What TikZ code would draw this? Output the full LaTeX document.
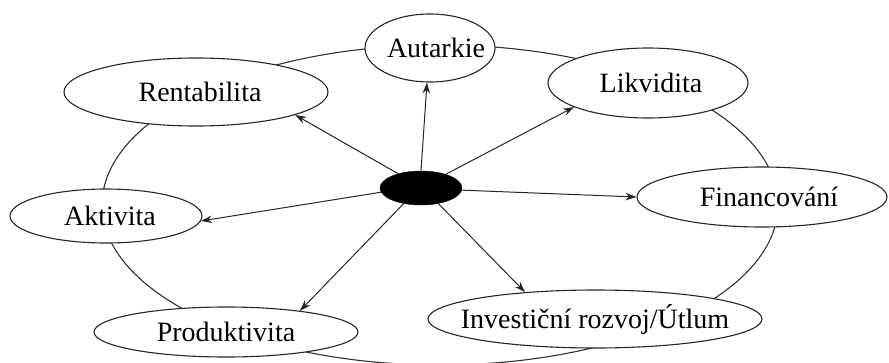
\documentclass[tikz,border=0pt]{standalone}
\usepackage{fontspec}
\setmainfont{Liberation Serif}
\usetikzlibrary{shapes.geometric,arrows.meta}
\tikzset{
  every picture/.style={x=1pt,y=-1pt},
  ebox/.style={ellipse,draw=black!85,line width=1.1pt,fill=white,inner sep=0pt,
    font=\fontsize{28}{30}\selectfont},
  hub/.style={ellipse,fill=black,draw=black,inner sep=0pt,minimum width=82pt,minimum height=34pt},
  ray/.style={draw=black!85,line width=1pt,-{Stealth[length=11pt,width=7.5pt]}},
  ring/.style={draw=black!80,line width=1.1pt}
}
\newcommand{\ctext}[2][0pt]{\makebox[0pt][c]{\hspace{#1}#2}}
\begin{document}
\begin{tikzpicture}
\useasboundingbox (0,0) rectangle (889,362);
% outer ring
\draw[ring] (440,205) ellipse [x radius=338, y radius=160];
% nodes
\node[ebox,minimum width=264pt,minimum height=68pt] (rent) at (196,92) {\ctext[8pt]{Rentabilita}};
\node[ebox,minimum width=130pt,minimum height=68pt] (aut) at (430,48) {\ctext[12pt]{Autarkie}};
\node[ebox,minimum width=200pt,minimum height=70pt] (lik) at (648,83) {\ctext[6pt]{Likvidita}};
\node[ebox,minimum width=250pt,minimum height=60pt] (fin) at (762,197) {\ctext[14pt]{Financování}};
\node[ebox,minimum width=334pt,minimum height=58pt] (inv) at (595,319) {\ctext{Investiční rozvoj/Útlum}};
\node[ebox,minimum width=264pt,minimum height=50pt] (prod) at (226,332) {\ctext{Produktivita}};
\node[ebox,minimum width=192pt,minimum height=54pt] (akt) at (106,216) {\ctext[8pt]{Aktivita}};
\node[hub] (c) at (421,188) {};
% arrows
\draw[ray] (c.148) -- (rent.-13);
\draw[ray] (c.90) -- (aut.265);
\draw[ray] (c.29) -- (lik.198);
\draw[ray] (c.-3) -- (fin.180);
\draw[ray] (c.-42) -- (inv.159);
\draw[ray] (c.222) -- (prod.16);
\draw[ray] (c.186) -- (akt.-3);
\end{tikzpicture}
\end{document}
